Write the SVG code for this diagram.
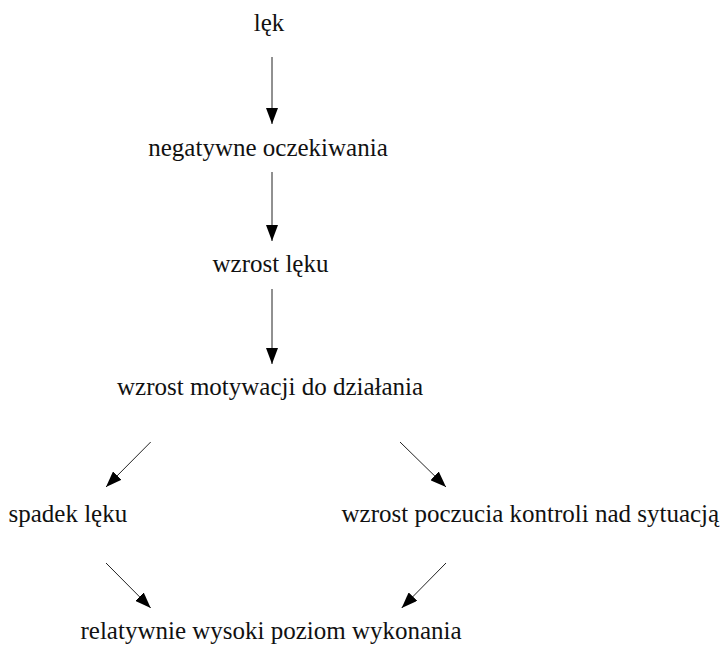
<svg xmlns="http://www.w3.org/2000/svg" width="725" height="649" viewBox="0 0 725 649">
<defs>
<marker id="ah" markerUnits="userSpaceOnUse" markerWidth="16" markerHeight="12" viewBox="0 0 16 12" refX="16" refY="6" orient="auto">
<path d="M0,0 L16,6 L0,12 Z" fill="#000"/>
</marker>
</defs>
<rect width="725" height="649" fill="#fff"/>
<g id="n1"><text x="269" y="31" text-anchor="middle" font-family="'Liberation Serif', serif" font-size="25" fill="#111">lęk</text></g>
<g id="n2"><text x="268" y="156" text-anchor="middle" font-family="'Liberation Serif', serif" font-size="25" fill="#111">negatywne oczekiwania</text></g>
<g id="n3"><text x="270.5" y="272" text-anchor="middle" font-family="'Liberation Serif', serif" font-size="25" fill="#111">wzrost lęku</text></g>
<g id="n4"><text x="117" y="395" font-family="'Liberation Serif', serif" font-size="25" fill="#111">wzrost motywacji do działania</text></g>
<g id="n5"><text x="8.5" y="522" font-family="'Liberation Serif', serif" font-size="25" fill="#111">spadek lęku</text></g>
<g id="n6"><text x="341.5" y="522" font-family="'Liberation Serif', serif" font-size="25" fill="#111">wzrost poczucia kontroli nad sytuacją</text></g>
<g id="n7"><text x="80.5" y="639" font-family="'Liberation Serif', serif" font-size="25" fill="#111">relatywnie wysoki poziom wykonania</text></g>
<g id="connectors" stroke="#222" stroke-width="1" marker-end="url(#ah)">
<line x1="272" y1="57" x2="272" y2="124"/>
<line x1="272" y1="172" x2="272" y2="241"/>
<line x1="272" y1="289" x2="272" y2="364"/>
<line x1="150.7" y1="442" x2="106" y2="487"/>
<line x1="400" y1="442" x2="446" y2="487"/>
<line x1="106" y1="563" x2="150.7" y2="608"/>
<line x1="446" y1="563" x2="401.7" y2="608"/>
</g>
</svg>
